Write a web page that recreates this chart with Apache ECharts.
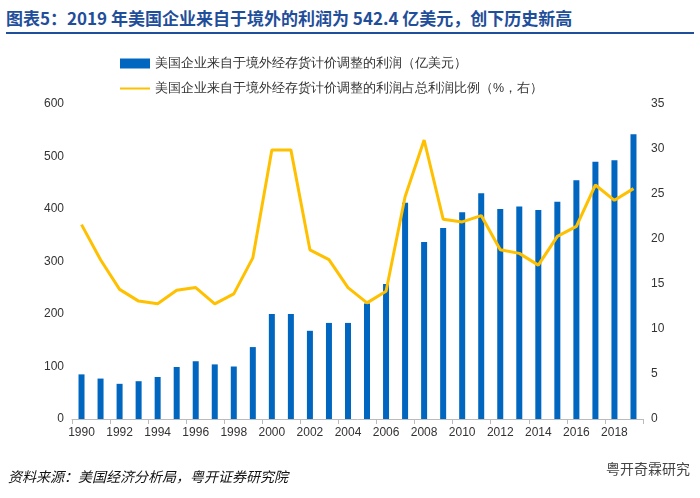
<!DOCTYPE html>
<html>
<head>
<meta charset="UTF-8">
<script src="https://cdn.jsdelivr.net/npm/echarts@6/dist/echarts.min.js"></script>
<style>
body{margin:0;background:#fff;font-family:"Noto Sans CJK SC",sans-serif;}
#title{position:absolute;left:6px;top:4px;width:688px;height:28px;border-bottom:2px solid #1f4e9a;color:#1f4e9a;font-weight:bold;font-size:17px;line-height:28px;}
#src{position:absolute;left:8px;top:466px;font-size:14px;font-style:italic;color:#111;}
#wm{position:absolute;right:10px;top:458px;font-size:14px;color:#444;}
</style>
</head>
<body>
<div id="title">图表5：2019 年美国企业来自于境外的利润为 542.4 亿美元，创下历史新高</div>
<div id="container" style="position:absolute;left:0;top:0;width:700px;height:498px"></div>
<div id="src">资料来源：美国经济分析局，粤开证券研究院</div>
<div id="wm">粤开奇霖研究</div>
<script type="text/javascript">
var years = [];
for (var y = 1990; y <= 2019; y++) years.push(String(y));
// 亿美元
var profits = [85, 77, 67, 72, 80, 99, 110, 104, 100, 137, 200, 200, 168, 183, 183, 220,
    257, 412, 337, 364, 394, 430, 400, 405, 398, 414, 455, 490, 493, 542.4];
// %
var shares = [21.6, 17.7, 14.4, 13.1, 12.8, 14.3, 14.6, 12.8, 13.9, 17.9, 29.9, 29.9, 18.8, 17.7, 14.6, 12.9,
    14.2, 24.7, 31.0, 22.2, 21.9, 22.6, 18.8, 18.4, 17.1, 20.3, 21.4, 26.0, 24.3, 25.6];

var myChart = echarts.init(document.getElementById('container'));
var axisText = {color: '#333', fontSize: 12, fontFamily: 'Liberation Sans'};
var option = {
    animation: false,
    legend: {
        orient: 'vertical', left: 115, top: 52, itemGap: 12,
        itemWidth: 30, itemHeight: 10,
        textStyle: {fontSize: 12.5, color: '#333'},
        data: [
            {name: '美国企业来自于境外经存货计价调整的利润（亿美元）', icon: 'rect'},
            {name: '美国企业来自于境外经存货计价调整的利润占总利润比例（%，右）',
                icon: 'path://M0,4H30V6H0Z'}
        ]
    },
    grid: {left: 72, right: 57, top: 104, bottom: 79},
    xAxis: {
        type: 'category', data: years,
        axisLine: {lineStyle: {color: '#bbb'}},
        axisTick: {show: true, interval: 1, lineStyle: {color: '#bbb'}},
        axisLabel: Object.assign({interval: 1}, axisText)
    },
    yAxis: [
        {type: 'value', min: 0, max: 600, interval: 100, splitLine: {show: false},
            axisLabel: axisText},
        {type: 'value', min: 0, max: 35, interval: 5, splitLine: {show: false},
            axisLabel: axisText}
    ],
    series: [
        {name: '美国企业来自于境外经存货计价调整的利润（亿美元）', type: 'bar',
            data: profits, barWidth: 6, itemStyle: {color: '#0066bf'}},
        {name: '美国企业来自于境外经存货计价调整的利润占总利润比例（%，右）', type: 'line',
            yAxisIndex: 1, data: shares, symbol: 'none',
            lineStyle: {color: '#ffc000', width: 3}, itemStyle: {color: '#ffc000'}}
    ]
};
myChart.setOption(option);
</script>
</body>
</html>
